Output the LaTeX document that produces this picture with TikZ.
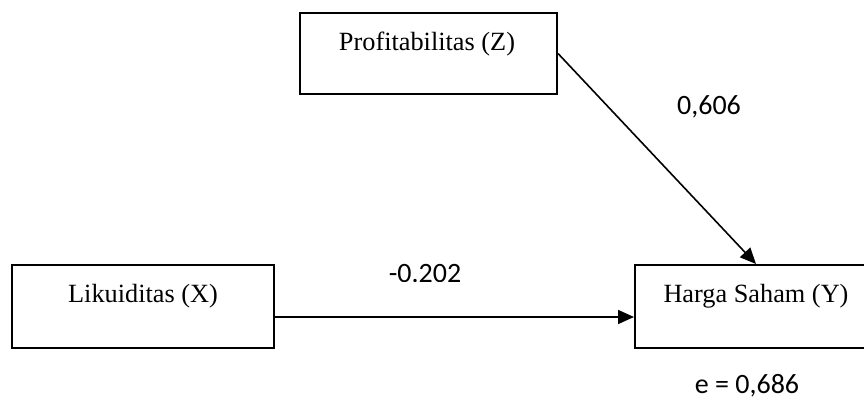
\documentclass[tikz,border=0pt]{standalone}
\usepackage{fontspec}
\setmainfont{Liberation Serif}
\newfontfamily\numfont{Carlito}
\usetikzlibrary{arrows.meta}
\begin{document}
\begin{tikzpicture}[x=1pt,y=-1pt,
  box/.style={draw=black, line width=2pt, fill=white, inner sep=0pt},
  lbl/.style={font=\fontsize{26.3}{30}\selectfont, anchor=base, inner sep=0pt},
  num/.style={font=\numfont\fontsize{28}{32}\selectfont, anchor=base, inner sep=0pt},
  arr/.style={line width=1.6pt, -{Triangle[length=16pt,width=14pt]}}]
\useasboundingbox (0,0) rectangle (864,401);
% boxes
\node[box, minimum width=257pt, minimum height=81pt] (z) at (428.5,53.5) {};
\node[box, minimum width=262pt, minimum height=83pt] (x) at (143,306.5) {};
\node[box, minimum width=242pt, minimum height=83pt] (y) at (756,306.5) {};
% labels
\node[lbl] (zl) at (427,51) {Profitabilitas (Z)};
\node[lbl] (xl) at (143,302) {Likuiditas (X)};
\node[lbl] (yl) at (756,302) {Harga Saham (Y)};
% connectors
\draw[arr] (z.east) -- (y.north);
\draw[arr] ([yshift=-10.5pt]x.east) -- ([yshift=-10.5pt]y.west);
% coefficients
\node[num] (c1) at (709,115) {0,606};
\begin{scope}
\clip (370,250) rectangle (480,281);
\node[num] (c2) at (425,282.5) {-0.202};
\end{scope}
\node[num] (e) at (747,393.5) {e = 0,686};
\end{tikzpicture}
\end{document}
